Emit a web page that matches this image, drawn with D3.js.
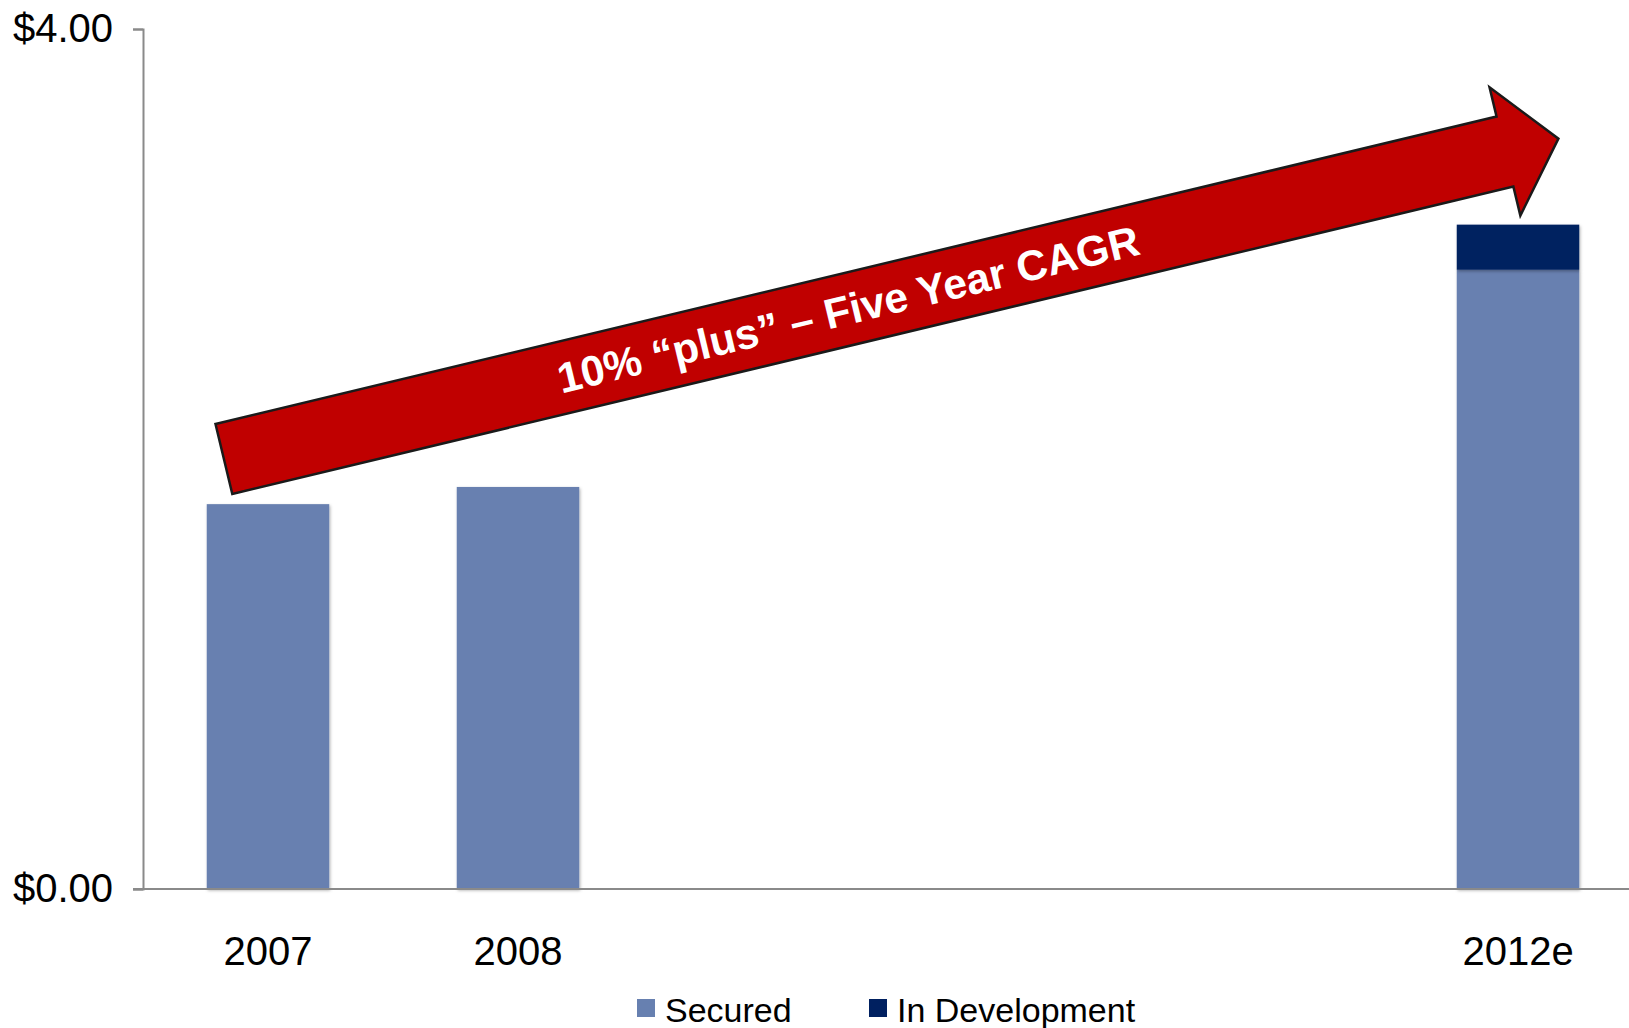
<!DOCTYPE html>
<html>
<head>
<meta charset="utf-8">
<script src="https://cdn.jsdelivr.net/npm/d3@7"></script>
<style>
  body { margin: 0; background: #fff; }
  text { font-family: "Liberation Sans", Arial, sans-serif; }
</style>
</head>
<body>
<svg id="chart" width="1629" height="1028"></svg>
<script>
// --------DATA--------------
var years = ["2007", "2008", "2009", "2010", "2011", "2012e"];
var yearLabels = ["2007", "2008", "", "", "", "2012e"];
var secured = [1.79, 1.87, 0, 0, 0, 2.88];
var inDevelopment = [0, 0, 0, 0, 0, 0.21];
var seriesNames = ["Secured", "In Development"];
var seriesColors = ["#6780b0", "#002060"];
var yTicks = [0, 4];
var arrowLabel = "10% \u201cplus\u201d \u2013 Five Year CAGR";

var width = 1629, height = 1028;
var svg = d3.select("#chart");

var x = d3.scaleBand()
  .domain(years)
  .range([143, 1643])
  .paddingInner(0.51)
  .paddingOuter(0.255);

var y = d3.scaleLinear().domain([0, 4]).range([889, 29]);

// table for the stack
var table = years.map(function(yr, i) {
  return { year: yr, "Secured": secured[i], "In Development": inDevelopment[i] };
});
var stacked = d3.stack().keys(seriesNames)(table);

// soft shadow like the slide
var defs = svg.append("defs");
var f = defs.append("filter").attr("id", "shadow")
  .attr("x", "-10%").attr("y", "-10%").attr("width", "130%").attr("height", "130%");
f.append("feDropShadow")
  .attr("dx", 1).attr("dy", 1.5).attr("stdDeviation", 1.5)
  .attr("flood-color", "#000").attr("flood-opacity", 0.3);

// ----------BARS---------------
svg.append("g").selectAll("g")
  .data(stacked)
  .enter().append("g")
  .attr("fill", function(d, i) { return seriesColors[i]; })
  .selectAll("rect")
  .data(function(d) { return d.filter(function(p) { return p[1] - p[0] > 0; }); })
  .enter().append("rect")
  .attr("x", function(d) { return x(d.data.year); })
  .attr("width", x.bandwidth())
  .attr("y", function(d) { return y(d[1]); })
  .attr("height", function(d) { return y(d[0]) - y(d[1]); })
  .attr("filter", "url(#shadow)");

// ----------AXES---------------
var yAxis = svg.append("g")
  .attr("transform", "translate(143,0)")
  .call(d3.axisLeft(y)
    .tickValues(yTicks)
    .tickSize(10)
    .tickPadding(20)
    .tickFormat(function(d) { return "$" + d.toFixed(2); }));
yAxis.selectAll("path, line").attr("stroke", "#8a8a8a").attr("stroke-width", 2);
yAxis.selectAll("text").attr("font-size", 40).attr("fill", "#000")
  .style("font-family", "'Liberation Sans', Arial, sans-serif");

// baseline runs across the whole plot
svg.append("line")
  .attr("x1", 133).attr("x2", width)
  .attr("y1", y(0)).attr("y2", y(0))
  .attr("stroke", "#8a8a8a").attr("stroke-width", 2);

var xAxis = svg.append("g")
  .attr("transform", "translate(0," + y(0) + ")")
  .call(d3.axisBottom(x)
    .tickSize(0)
    .tickPadding(48)
    .tickFormat(function(d, i) { return yearLabels[i]; }));
xAxis.select(".domain").remove();
xAxis.selectAll("text").attr("font-size", 40).attr("fill", "#000")
  .style("font-family", "'Liberation Sans', Arial, sans-serif");

// ----------ARROW---------------
var p0 = [x("2007") + x.bandwidth() * 0.14, y(2.0)];
var p1 = [x("2012e") + x.bandwidth() * 0.83, y(3.49)];
var dxA = p1[0] - p0[0], dyA = p1[1] - p0[1];
var len = Math.sqrt(dxA * dxA + dyA * dyA);
var ang = Math.atan2(dyA, dxA) * 180 / Math.PI;
var shaft = 36, headLen = 55, headHalf = 66;

var arrow = svg.append("g")
  .attr("transform", "translate(" + p0[0] + "," + p0[1] + ") rotate(" + ang + ")");

arrow.append("path")
  .attr("d", d3.line()([
    [0, -shaft], [len - headLen, -shaft], [len - headLen, -headHalf],
    [len, 0],
    [len - headLen, headHalf], [len - headLen, shaft], [0, shaft]
  ]) + "Z")
  .attr("fill", "#c00000")
  .attr("stroke", "#1a1a1a")
  .attr("stroke-width", 2.5)
  .attr("stroke-linejoin", "miter");

arrow.append("text")
  .attr("x", 642)
  .attr("y", 15)
  .attr("text-anchor", "middle")
  .attr("font-size", 42.5)
  .attr("font-weight", "bold")
  .attr("fill", "#fff")
  .text(arrowLabel);

// ----------LEGEND---------------
var legendX = [637, 869];
var legend = svg.append("g").selectAll("g")
  .data(seriesNames)
  .enter().append("g")
  .attr("transform", function(d, i) { return "translate(" + legendX[i] + ",999)"; });

legend.append("rect")
  .attr("width", 18).attr("height", 18)
  .attr("fill", function(d, i) { return seriesColors[i]; });

legend.append("text")
  .attr("x", 28)
  .attr("y", 23)
  .attr("font-size", 34)
  .attr("fill", "#000")
  .text(function(d) { return d; });
</script>
</body>
</html>
